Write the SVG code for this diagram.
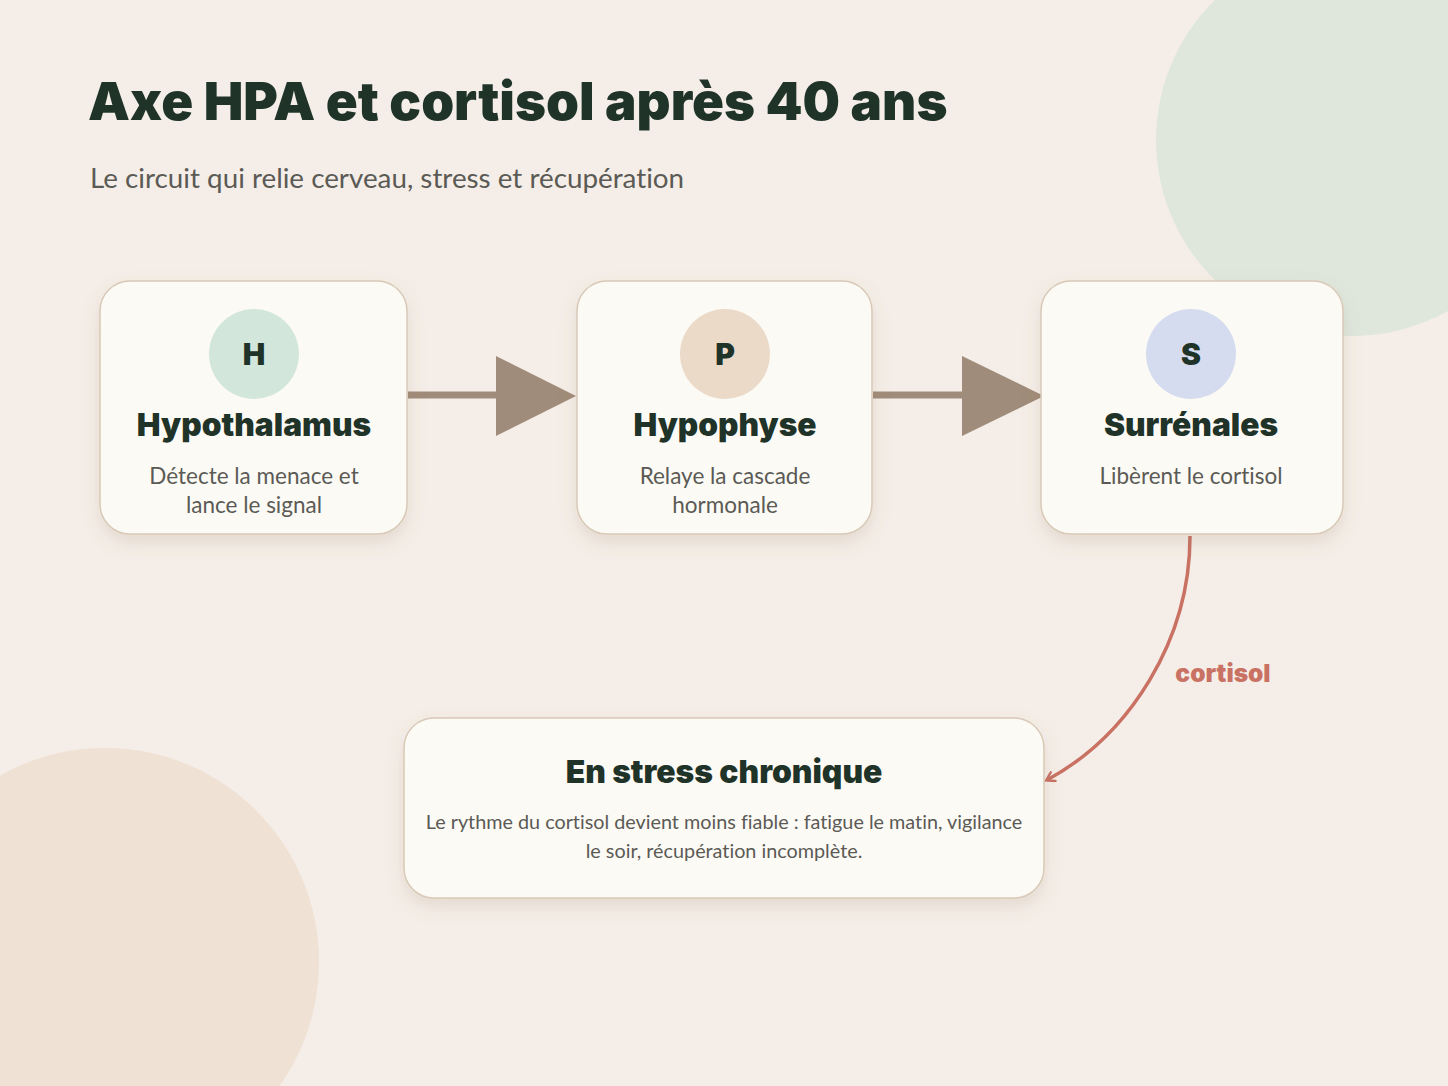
<svg xmlns="http://www.w3.org/2000/svg" width="1448" height="1086" viewBox="0 0 1448 1086">
<defs>
<style>
.card{fill:#fcfaf5;stroke:#d9c9b6;stroke-width:1.5}
.ttl{font-family:Inter,"Noto Sans",sans-serif;font-weight:900;fill:#1f3329;text-anchor:middle}
.desc{font-family:Lato,"Noto Sans",sans-serif;font-weight:400;fill:#5b5a55;text-anchor:middle;font-variant-ligatures:none}
.flow{stroke:#a08c7a;stroke-width:7;fill:none}
.head{fill:#a08c7a}
</style>
<filter id="sh" x="-20%" y="-20%" width="140%" height="150%">
<feDropShadow dx="0" dy="8" stdDeviation="9" flood-color="#8a6a50" flood-opacity="0.16"/>
</filter>
<marker id="chev" viewBox="0 0 12 12" refX="9" refY="6" markerWidth="12" markerHeight="12" markerUnits="userSpaceOnUse" orient="auto">
<path d="M2,1 L10,6 L2,11" fill="none" stroke="#c97264" stroke-width="2.4" stroke-linecap="round"/>
</marker>
</defs>
<rect width="1448" height="1086" fill="#f5eee8"/>
<circle cx="1352" cy="140" r="196" fill="#dfe7dd"/>
<circle cx="105" cy="962" r="214" fill="#efe1d4"/>
<text x="88" y="120" font-family="Inter,'Noto Sans',sans-serif" font-weight="900" font-size="52.8" fill="#1f3329">Axe HPA et cortisol après 40 ans</text>
<text x="90" y="188" font-family="Lato,'Noto Sans',sans-serif" font-size="27.8" fill="#5b5a55" style="font-variant-ligatures:none">Le circuit qui relie cerveau, stress et récupération</text>
<g id="connectors">
<line class="flow" x1="408" y1="395" x2="500" y2="395"/>
<polygon class="head" points="496,356 576,396 496,436"/>
<line class="flow" x1="873" y1="395" x2="966" y2="395"/>
<polygon class="head" points="962,356 1044,396 962,436"/>
<path d="M1190,536 C1190,640 1130,735 1047,780" fill="none" stroke="#c97264" stroke-width="3.5" marker-end="url(#chev)"/>
<text x="1223" y="682" font-family="Inter,'Noto Sans',sans-serif" font-weight="900" font-size="24.5" fill="#c97264" text-anchor="middle">cortisol</text>
</g>
<g id="hypothalamus">
<rect class="card" x="100" y="281" width="307" height="253" rx="30" filter="url(#sh)"/>
<circle cx="254" cy="354" r="45" fill="#d3e6dc"/>
<text class="ttl" x="254" y="365" font-size="30">H</text>
<text class="ttl" x="254" y="436" font-size="31.7">Hypothalamus</text>
<text class="desc" x="254" y="484" font-size="22.5">Détecte la menace et</text>
<text class="desc" x="254" y="513" font-size="22.5">lance le signal</text>
</g>
<g id="hypophyse">
<rect class="card" x="577" y="281" width="295" height="253" rx="30" filter="url(#sh)"/>
<circle cx="725" cy="354" r="45" fill="#ecdac9"/>
<text class="ttl" x="725" y="365" font-size="30">P</text>
<text class="ttl" x="725" y="436" font-size="31.7">Hypophyse</text>
<text class="desc" x="725" y="484" font-size="22.5">Relaye la cascade</text>
<text class="desc" x="725" y="513" font-size="22.5">hormonale</text>
</g>
<g id="surrenales">
<rect class="card" x="1041" y="281" width="302" height="253" rx="30" filter="url(#sh)"/>
<circle cx="1191" cy="354" r="45" fill="#d6dcef"/>
<text class="ttl" x="1191" y="365" font-size="30">S</text>
<text class="ttl" x="1191" y="436" font-size="31.7">Surrénales</text>
<text class="desc" x="1191" y="484" font-size="22.5">Libèrent le cortisol</text>
</g>
<g id="stress-chronique">
<rect class="card" x="404" y="718" width="640" height="180" rx="30" filter="url(#sh)"/>
<text class="ttl" x="724" y="783" font-size="31.8">En stress chronique</text>
<text class="desc" x="724" y="829" font-size="19.8">Le rythme du cortisol devient moins fiable : fatigue le matin, vigilance</text>
<text class="desc" x="724" y="858" font-size="19.8">le soir, récupération incomplète.</text>
</g>
</svg>
